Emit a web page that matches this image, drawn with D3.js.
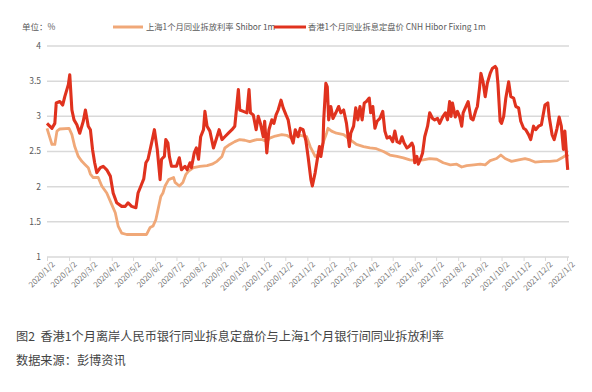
<!DOCTYPE html>
<html>
<head>
<meta charset="utf-8">
<script src="https://cdn.jsdelivr.net/npm/d3@7"></script>
<style>
  html, body { margin: 0; padding: 0; background: #fff; }
  svg { display: block; }
</style>
</head>
<body>
<svg id="chart" width="592" height="392"></svg>
<script>
// ---- data (day offsets from 2020/1/2, rates in %) ----
const startDate = new Date(2020, 0, 2);
const tickLabels = ["2020/1/2","2020/2/2","2020/3/2","2020/4/2","2020/5/2","2020/6/2","2020/7/2","2020/8/2","2020/9/2","2020/10/2","2020/11/2","2020/12/2",
  "2021/1/2","2021/2/2","2021/3/2","2021/4/2","2021/5/2","2021/6/2","2021/7/2","2021/8/2","2021/9/2","2021/10/2","2021/11/2","2021/12/2","2022/1/2"];
const yTicks = [1, 1.5, 2, 2.5, 3, 3.5, 4];

const seriesNames = ["上海1个月同业拆放利率 Shibor 1m", "香港1个月同业拆息定盘价 CNH Hibor Fixing 1m"];

const shiborDay = [0,7,11,14,18,31,35,39,44,49,53,58,61,65,72,77,84,90,96,100,105,112,126,140,145,149,153,156,160,163,166,171,178,180,186,191,195,199,206,215,225,232,239,246,250,257,264,271,278,285,295,302,309,313,321,330,337,342,349,356,365,370,377,381,388,393,395,400,407,417,426,435,445,454,463,473,482,492,501,510,520,529,538,548,557,567,576,583,590,600,609,616,623,632,638,644,653,663,672,679,686,698,707,717,724,730,733];
const shiborVal = [2.83,2.60,2.60,2.79,2.82,2.83,2.74,2.57,2.43,2.36,2.32,2.27,2.18,2.13,2.13,2.01,1.91,1.77,1.63,1.44,1.34,1.32,1.32,1.32,1.42,1.44,1.53,1.67,1.86,1.91,2.01,2.10,2.13,2.06,2.01,2.06,2.17,2.22,2.27,2.29,2.30,2.32,2.36,2.43,2.55,2.60,2.64,2.67,2.66,2.64,2.67,2.67,2.64,2.69,2.72,2.74,2.73,2.70,2.72,2.73,2.71,2.57,2.43,2.45,2.62,2.76,2.83,2.79,2.76,2.74,2.67,2.60,2.57,2.55,2.54,2.50,2.45,2.43,2.41,2.38,2.37,2.38,2.40,2.39,2.34,2.31,2.32,2.28,2.30,2.31,2.32,2.31,2.37,2.40,2.45,2.40,2.36,2.38,2.40,2.38,2.35,2.36,2.36,2.37,2.41,2.45,2.43];

const hiborDay = [0,7,11,13,18,22,25,30,32,35,38,42,46,51,54,58,61,64,67,70,75,79,84,89,93,98,105,110,114,119,125,128,132,136,139,142,147,151,155,159,161,165,167,170,172,175,179,182,186,189,194,197,201,203,207,210,213,216,220,222,225,229,234,239,242,246,250,255,260,264,269,271,276,281,284,286,290,294,297,300,304,306,309,312,316,319,322,325,329,332,336,339,343,346,349,353,356,360,364,367,371,373,377,380,383,385,388,389,392,394,396,399,402,406,410,413,417,421,425,427,431,434,437,440,443,446,449,453,455,458,461,464,468,472,475,478,482,486,489,492,496,499,502,506,509,513,515,517,520,522,525,528,531,535,538,542,545,549,552,556,560,563,566,568,570,574,577,580,583,585,589,592,596,599,603,605,608,610,613,616,619,623,626,630,632,634,637,639,642,645,649,652,656,659,663,666,670,673,677,680,684,687,691,695,700,704,706,710,713,717,720,723,726,728,730,732];
const hiborVal = [2.90,2.83,2.90,3.19,3.21,3.16,3.28,3.45,3.59,3.09,2.95,2.88,2.76,2.93,3.09,2.86,2.81,2.53,2.34,2.20,2.27,2.29,2.24,2.15,1.91,1.77,1.72,1.72,1.77,1.72,1.70,1.91,2.01,2.11,2.34,2.39,2.62,2.81,2.53,2.10,2.39,2.43,2.67,2.62,2.43,2.29,2.29,2.29,2.41,2.24,2.29,2.24,2.34,2.27,2.48,2.55,2.39,2.71,2.81,3.07,2.86,2.79,2.55,2.71,2.81,2.67,2.71,2.76,2.81,2.86,3.38,3.09,3.07,3.05,3.38,3.05,3.02,2.81,3.00,2.90,2.71,2.93,2.48,2.81,2.95,2.90,3.02,3.09,3.23,3.12,3.02,2.95,2.71,2.62,2.81,2.71,2.83,2.81,2.65,2.43,2.10,2.01,2.20,2.39,2.57,2.43,2.62,2.95,3.47,3.42,2.95,3.14,2.97,3.05,3.14,3.05,3.09,2.90,2.57,2.76,2.86,3.12,2.95,3.14,2.95,3.19,3.21,3.26,3.05,3.14,2.83,2.93,2.97,3.07,2.79,2.69,2.71,2.64,2.79,2.64,2.62,2.71,2.62,2.55,2.57,2.62,2.57,2.34,2.43,2.32,2.39,2.48,2.71,2.86,3.05,2.97,2.95,2.97,2.90,2.99,3.05,2.95,3.21,3.00,3.19,2.99,3.07,3.00,2.86,3.05,3.14,3.21,2.97,2.95,3.09,3.14,3.40,3.61,3.49,3.28,3.47,3.61,3.68,3.71,3.68,3.45,2.93,2.90,3.00,3.26,3.49,3.28,3.26,3.14,3.12,2.93,2.83,2.81,2.74,2.67,2.86,2.81,2.86,2.88,3.16,3.19,2.99,2.74,2.67,2.83,2.99,2.86,2.53,2.79,2.51,2.24];

const colors = ["#f0a878", "#e0321e"];
const captionTitle = "图2\u00a0\u00a0香港1个月离岸人民币银行同业拆息定盘价与上海1个月银行间同业拆放利率";
const captionSource = "数据来源：彭博资讯";

// ---- drawing ----
const svg = d3.select("#chart");
const toDate = d => d3.timeDay.offset(startDate, d);
const endDate = new Date(2022, 0, 2);

const x = d3.scaleTime().domain([startDate, endDate]).range([47, 567]);
const y = d3.scaleLinear().domain([1, 4]).range([257, 46]);

const font = "'Noto Sans CJK SC', 'Noto Sans', sans-serif";

// gridlines
svg.append("g").selectAll("line").data(yTicks.filter(v => v > 1)).join("line")
  .attr("x1", 47).attr("x2", 569)
  .attr("y1", d => y(d)).attr("y2", d => y(d))
  .attr("stroke", "#d9d9d9").attr("stroke-width", 1.5);

// y labels
svg.append("g").selectAll("text").data(yTicks).join("text")
  .attr("x", 41).attr("y", d => y(d)).attr("dy", "0.35em")
  .attr("text-anchor", "end")
  .attr("font-family", font).attr("font-size", 8.5).attr("fill", "#595959")
  .text(d => d);

// x axis
const tickDates = tickLabels.map(s => { const p = s.split("/").map(Number); return new Date(p[0], p[1]-1, p[2]); });
const xAxis = d3.axisBottom(x).tickValues(tickDates).tickSize(4).tickFormat((d, i) => tickLabels[i]);
const gx = svg.append("g").attr("transform", `translate(0,${y(1)})`).call(xAxis);
gx.select(".domain").attr("stroke", "#d9d9d9").attr("stroke-width", 1.5).attr("d", "M47,0H569");
gx.selectAll(".tick line").attr("stroke", "#d9d9d9").attr("stroke-width", 1);
gx.selectAll(".tick text")
  .attr("font-family", font).attr("font-size", 8).attr("fill", "#777")
  .attr("text-anchor", "end")
  .attr("transform", "translate(3,3) rotate(-45)")
  .attr("x", 0).attr("y", 4).attr("dy", "0.35em");

// lines
const line = d3.line().x(d => x(d[0])).y(d => y(d[1]));
const shibor = shiborDay.map((d, i) => [toDate(d), shiborVal[i]]);
const hibor = hiborDay.map((d, i) => [toDate(d), hiborVal[i]]);

svg.append("path").datum(shibor).attr("d", line)
  .attr("fill", "none").attr("stroke", colors[0]).attr("stroke-width", 2.8).attr("stroke-linejoin", "round");
svg.append("path").datum(hibor).attr("d", line)
  .attr("fill", "none").attr("stroke", colors[1]).attr("stroke-width", 3.1).attr("stroke-linejoin", "round");

// unit label
svg.append("text").attr("x", 22).attr("y", 27).attr("dy", "0.35em")
  .attr("font-family", font).attr("font-size", 8.5).attr("fill", "#595959")
  .text("单位：%");

// legend
const leg = [{x1: 113, x2: 143, tx: 146}, {x1: 274, x2: 306, tx: 308}];
leg.forEach((l, i) => {
  svg.append("line").attr("x1", l.x1).attr("x2", l.x2).attr("y1", 27).attr("y2", 27)
    .attr("stroke", colors[i]).attr("stroke-width", 3);
  svg.append("text").attr("x", l.tx).attr("y", 27).attr("dy", "0.35em")
    .attr("font-family", font).attr("font-size", 8.3).attr("fill", "#595959")
    .text(seriesNames[i]);
});

// caption
svg.append("text").attr("x", 16).attr("y", 337).attr("dy", "0.35em")
  .attr("font-family", font).attr("font-size", 12.2).attr("fill", "#444")
  .text(captionTitle);
svg.append("text").attr("x", 16).attr("y", 361).attr("dy", "0.35em")
  .attr("font-family", font).attr("font-size", 12.2).attr("fill", "#444")
  .text(captionSource);
</script>
</body>
</html>
